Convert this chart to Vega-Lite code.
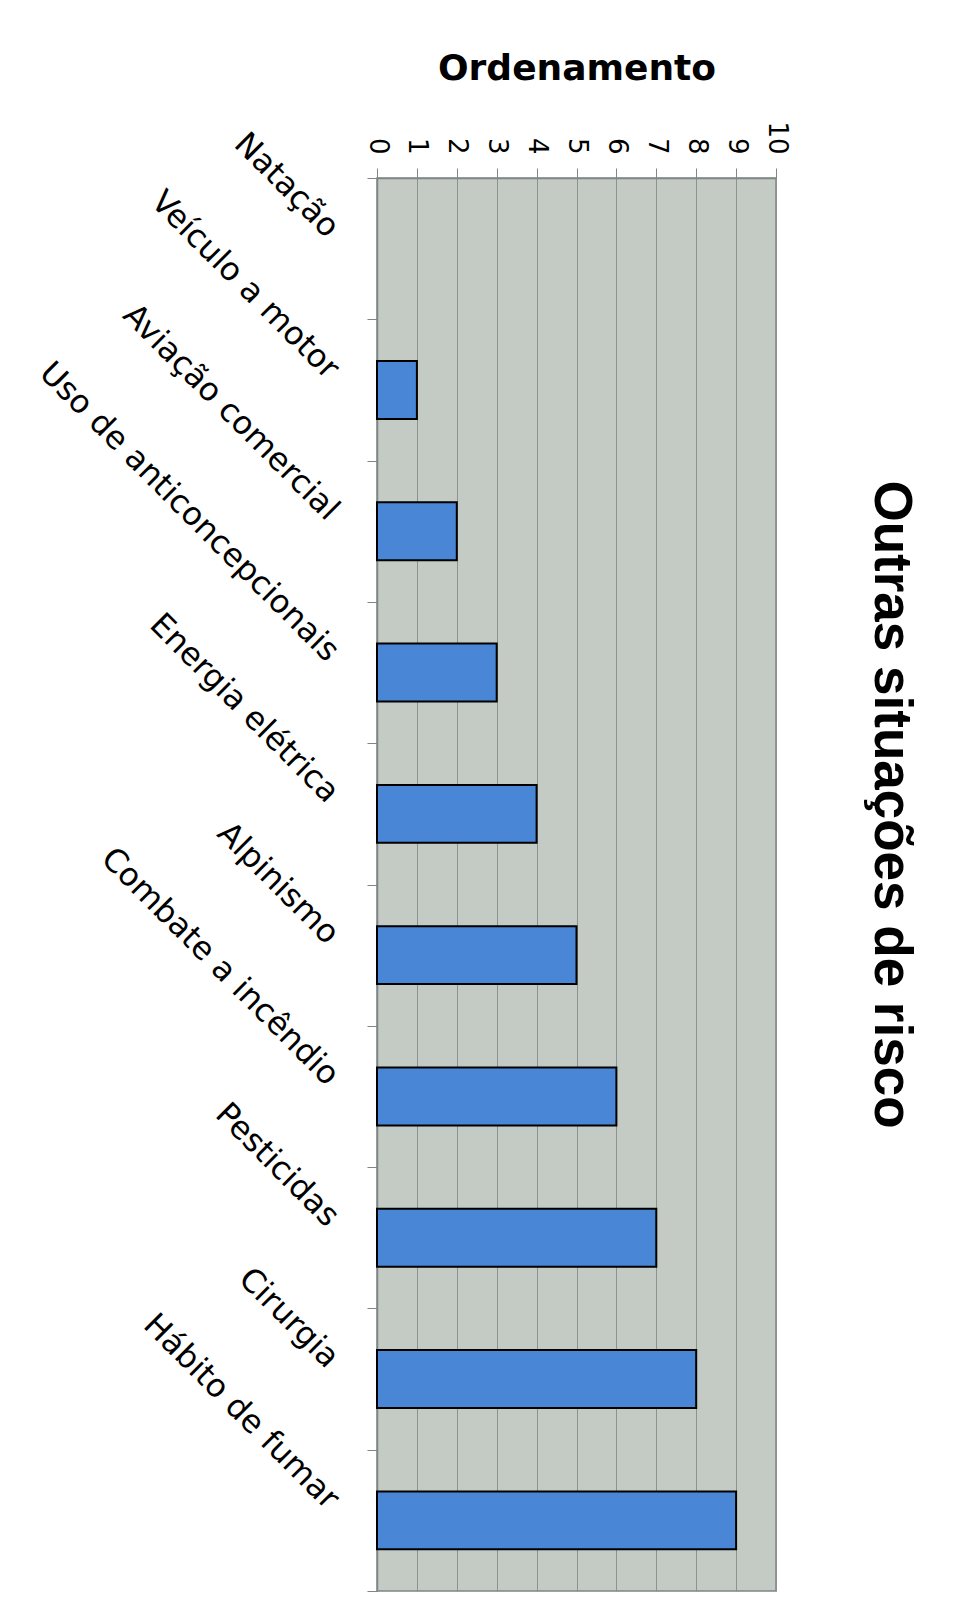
{
  "$schema": "https://vega.github.io/schema/vega-lite/v6.json",
  "width": 399,
  "height": 1413,
  "autosize": {"type": "none"},
  "padding": {"left": 377, "top": 178, "right": 177, "bottom": 16},
  "background": "white",
  "title": {
    "text": "Outras situações de risco",
    "orient": "right",
    "anchor": "middle",
    "frame": "group",
    "angle": 90,
    "baseline": "alphabetic",
    "offset": 33,
    "dx": -80,
    "font": "Liberation Sans",
    "fontSize": 53,
    "fontWeight": "bold",
    "color": "black"
  },
  "data": {
    "values": [
      {"situacao": "Natação", "ordem": 0},
      {"situacao": "Veículo a motor", "ordem": 1},
      {"situacao": "Aviação comercial", "ordem": 2},
      {"situacao": "Uso de anticoncepcionais", "ordem": 3},
      {"situacao": "Energia elétrica", "ordem": 4},
      {"situacao": "Alpinismo", "ordem": 5},
      {"situacao": "Combate a incêndio", "ordem": 6},
      {"situacao": "Pesticidas", "ordem": 7},
      {"situacao": "Cirurgia", "ordem": 8},
      {"situacao": "Hábito de fumar", "ordem": 9}
    ]
  },
  "mark": {"type": "bar", "color": "#4a86d6", "strokeWidth": 2, "height": {"band": 0.41}},
  "encoding": {
    "y": {
      "field": "situacao",
      "type": "nominal",
      "sort": null,
      "scale": {"paddingInner": 0, "paddingOuter": 0},
      "axis": {
        "orient": "left",
        "title": null,
        "tickBand": "extent",
        "tickSize": 10,
        "tickColor": "#808585",
        "domainColor": "#808585",
        "domainWidth": 1.5,
        "labelAngle": 45,
        "labelAlign": "right",
        "labelBaseline": "middle",
        "labelPadding": 34,
        "labelOffset": -17,
        "labelFont": "DejaVu Sans",
        "labelFontSize": 32,
        "labelColor": "black",
        "labelLimit": 0,
        "labelOverlap": false
      }
    },
    "x": {
      "field": "ordem",
      "type": "quantitative",
      "scale": {"domain": [0, 10], "nice": false},
      "axis": {
        "orient": "top",
        "title": "Ordenamento",
        "values": [0, 1, 2, 3, 4, 5, 6, 7, 8, 9, 10],
        "grid": true,
        "gridColor": "#8a9292",
        "gridWidth": 1,
        "domainColor": "#808585",
        "domainWidth": 1.5,
        "tickColor": "#808585",
        "tickSize": 10,
        "labelAngle": 90,
        "labelAlign": "right",
        "labelBaseline": "middle",
        "labelPadding": 14,
        "labelFont": "DejaVu Sans",
        "labelFontSize": 26,
        "labelColor": "black",
        "labelFlush": false,
        "labelOverlap": false,
        "titleFont": "DejaVu Sans",
        "titleFontSize": 36,
        "titleFontWeight": "bold",
        "titleColor": "black",
        "titlePadding": 33
      }
    },
    "stroke": {
      "condition": {"test": "datum.ordem > 0", "value": "black"},
      "value": null
    }
  },
  "config": {
    "view": {"fill": "#c3cbc4", "stroke": "#808585", "strokeWidth": 1.5}
  }
}
